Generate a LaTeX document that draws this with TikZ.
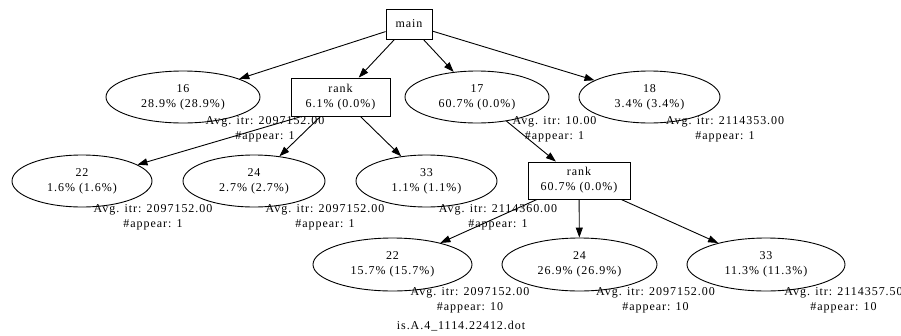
\documentclass[tikz,border=0pt]{standalone}
\usepackage{fontspec}
\setmainfont{Liberation Serif}[LetterSpace=8]
\usetikzlibrary{shapes.geometric,arrows.meta}
\begin{document}
\begin{tikzpicture}[x=1pt,y=-1pt,
  every node/.style={font=\fontsize{12}{15}\selectfont, align=center, inner sep=0pt},
  fn/.style={draw, line width=0.9pt, rectangle, minimum height=38pt},
  bb/.style={draw, line width=0.9pt, ellipse, minimum height=52pt},
  lbl/.style={},
  edge/.style={line width=0.9pt, -{Triangle[length=10pt,width=7pt]}}]
\useasboundingbox (0,0) rectangle (901,335);
% nodes
\node[fn, minimum width=46pt, minimum height=30pt] (main) at (409,24) {main};
\node[bb, minimum width=154pt] (n16) at (183,97) {16\\28.9\% (28.9\%)};
\node[fn, minimum width=99pt] (rank1) at (340.5,97) {rank\\6.1\% (0.0\%)};
\node[bb, minimum width=144pt] (n17) at (477,97) {17\\60.7\% (0.0\%)};
\node[bb, minimum width=141pt] (n18) at (649.5,97) {18\\3.4\% (3.4\%)};
\node[bb, minimum width=140pt] (n22a) at (82,181) {22\\1.6\% (1.6\%)};
\node[bb, minimum width=142pt] (n24a) at (254,181) {24\\2.7\% (2.7\%)};
\node[bb, minimum width=141pt] (n33a) at (426.5,181) {33\\1.1\% (1.1\%)};
\node[fn, minimum width=102pt, minimum height=37pt] (rank2) at (579,180.5) {rank\\60.7\% (0.0\%)};
\node[bb, minimum width=159pt, minimum height=53pt] (n22b) at (392.5,264.5) {22\\15.7\% (15.7\%)};
\node[bb, minimum width=155pt, minimum height=53pt] (n24b) at (579.5,264.5) {24\\26.9\% (26.9\%)};
\node[bb, minimum width=158pt, minimum height=53pt] (n33b) at (766,264.5) {33\\11.3\% (11.3\%)};
% labels
\node[lbl] (l16) at (265,129.5) {Avg. itr: 2097152.00\\\#appear: 1};
\node[lbl] (l17) at (554.5,129.5) {Avg. itr: 10.00\\\#appear: 1};
\node[lbl] (l18) at (725,129.5) {Avg. itr: 2114353.00\\\#appear: 1};
\node[lbl] (l22a) at (153,217.5) {Avg. itr: 2097152.00\\\#appear: 1};
\node[lbl] (l24a) at (325,217.5) {Avg. itr: 2097152.00\\\#appear: 1};
\node[lbl] (l33a) at (498,217.5) {Avg. itr: 2114360.00\\\#appear: 1};
\node[lbl] (l22b) at (470,300.5) {Avg. itr: 2097152.00\\\#appear: 10};
\node[lbl] (l24b) at (655.5,300.5) {Avg. itr: 2097152.00\\\#appear: 10};
\node[lbl] (l33b) at (843.5,300.5) {Avg. itr: 2114357.50\\\#appear: 10};
\node (title) at (461,326) {is.A.4\_1114.22412.dot};
% edges
\draw[edge] (main) -- (n16);
\draw[edge] (main) -- (rank1);
\draw[edge] (main) -- (n17);
\draw[edge] (main) -- (n18);
\draw[edge] ([xshift=11pt]rank1.south west) -- (n22a);
\draw[edge] (rank1) -- (n24a);
\draw[edge] (rank1) -- (n33a);
\draw[edge] (n17) -- (rank2);
\draw[edge] (rank2) -- (n22b);
\draw[edge] (rank2) -- (n24b);
\draw[edge] (rank2) -- (n33b);
\end{tikzpicture}
\end{document}
